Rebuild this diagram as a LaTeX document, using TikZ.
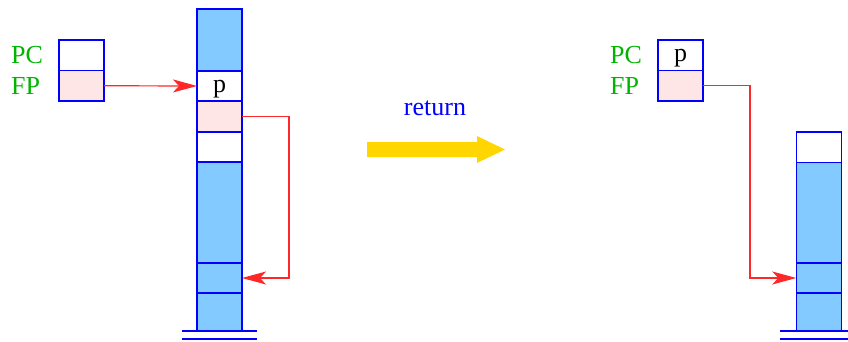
\documentclass[tikz,border=0pt]{standalone}
\usepackage{fontspec}
\setmainfont{Liberation Serif}
\usetikzlibrary{arrows.meta}
\definecolor{cellblue}{RGB}{130,202,255}
\definecolor{cellpink}{RGB}{255,230,230}
\definecolor{lblgreen}{RGB}{0,180,0}
\definecolor{gold}{RGB}{255,214,0}
\definecolor{ptrred}{RGB}{255,40,40}
\tikzset{
  cell/.style={draw=blue, line width=1.3pt, minimum width=45pt, inner sep=0pt, outer sep=0pt, text depth=0pt, font=\fontsize{26}{30}\selectfont},
  bluecell/.style={cell, fill=cellblue},
  pinkcell/.style={cell, fill=cellpink},
  whitecell/.style={cell, fill=white},
  lbl/.style={anchor=west, text=lblgreen, inner sep=0pt, font=\fontsize{26}{30}\selectfont},
  ptr/.style={draw=ptrred, line width=1.2pt, -{Stealth[length=24pt,width=13pt,inset=6pt]}},
  ground/.style={draw=blue, line width=1.2pt}
}
\begin{document}
\begin{tikzpicture}[x=1pt,y=-1pt]
\useasboundingbox (0,0) rectangle (848,341);
% left registers
\node[lbl] (pcl) at (11,55) {PC};
\node[lbl] (fpl) at (11,86) {FP};
\node[whitecell, minimum height=30.5pt] (pc1) at (81.5,55.25) {};
\node[pinkcell, minimum height=30.5pt] (fp1) at (81.5,85.75) {};
% left stack
\node[bluecell, minimum height=62pt] (s1) at (219.5,40) {};
\node[whitecell, minimum height=30pt] (s2) at (219.5,86) {p};
\node[pinkcell, minimum height=31pt] (s3) at (219.5,116.5) {};
\node[whitecell, minimum height=30pt] (s4) at (219.5,147) {};
\node[bluecell, minimum height=101pt] (s5) at (219.5,212.5) {};
\node[bluecell, minimum height=30pt] (s6) at (219.5,278) {};
\node[bluecell, minimum height=38pt] (s7) at (219.5,312) {};
\coordinate (g1a) at (182,331); \coordinate (g1b) at (257,331);
\coordinate (g2a) at (182,339); \coordinate (g2b) at (257,339);
\draw[ground] (g1a) -- (g1b);
\draw[ground] (g2a) -- (g2b);
% left pointers
\draw[ptr] (fp1.east) -- (s2.west);
\coordinate (lk) at (289,116.5);
\draw[ptr] (s3.east) -- (lk) |- (s6.east);
% return arrow
\node[text=blue, font=\fontsize{26}{30}\selectfont] (ret) at (435,108) {return};
\fill[gold] (367,142) -- (477,142) -- (477,136) -- (505,149.5) -- (477,163) -- (477,157) -- (367,157) -- cycle;
% right registers
\node[lbl] (pcr) at (610,55) {PC};
\node[lbl] (fpr) at (610,86) {FP};
\node[whitecell, minimum height=30.5pt] (pc2) at (680.5,55.25) {p};
\node[pinkcell, minimum height=30.5pt] (fp2) at (680.5,85.75) {};
% right stack
\node[whitecell, minimum height=30.5pt] (r1) at (818.75,147.25) {};
\node[bluecell, minimum height=100.5pt] (r2) at (818.75,212.75) {};
\node[bluecell, minimum height=30pt] (r3) at (818.75,278) {};
\node[bluecell, minimum height=38pt] (r4) at (818.75,312) {};
\coordinate (g3a) at (780,331); \coordinate (g3b) at (848,331);
\coordinate (g4a) at (780,339); \coordinate (g4b) at (848,339);
\draw[ground] (g3a) -- (g3b);
\draw[ground] (g4a) -- (g4b);
\coordinate (rk) at (750,85.75);
\draw[ptr] (fp2.east) -- (rk) |- (r3.west);
\end{tikzpicture}
\end{document}
